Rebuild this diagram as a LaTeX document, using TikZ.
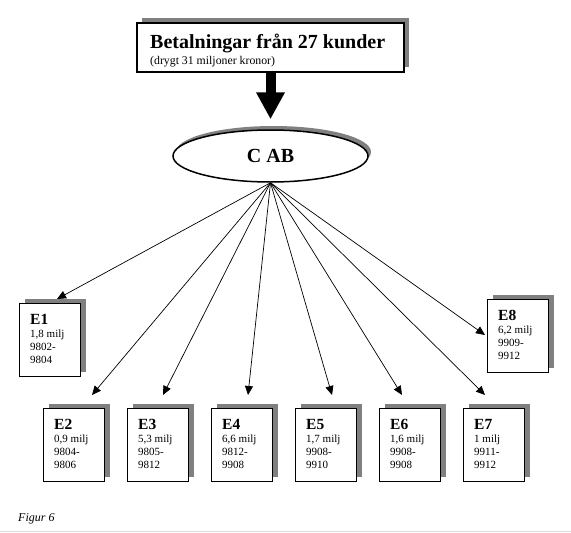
\documentclass[tikz,border=0pt]{standalone}
\usepackage{fontspec}
\setmainfont{Liberation Serif}
\usetikzlibrary{arrows.meta,shapes.geometric,shadows,calc}
\definecolor{shadowgray}{HTML}{808080}
\definecolor{rulegray}{HTML}{DCDCDC}
\tikzset{
  shd/.style={drop shadow={shadow xshift=5pt, shadow yshift=5pt, fill=shadowgray, opacity=1}},
  ebox/.style={draw, line width=1pt, fill=white, minimum width=61pt, minimum height=73pt, inner sep=0pt, shd},
  etitle/.style={font=\fontsize{15.5}{15.5}\selectfont\bfseries, inner sep=0pt},
  eline/.style={font=\fontsize{11}{12}\selectfont, inner sep=0pt},
  thin arrow/.style={line width=0.7pt, -{Triangle[length=9pt,width=8pt]}},
}
\newcommand\ebox[7]{%
  \node[ebox, anchor=north west] (#1) at (#2,#3) {};
  \node[etitle, anchor=base west] (#1t) at ($(#1.north west)+(11,21)$) {#4};
  \node[eline, anchor=base west] (#1a) at ($(#1.north west)+(11,34)$) {#5};
  \node[eline, anchor=base west] (#1b) at ($(#1.north west)+(11,47)$) {#6};
  \node[eline, anchor=base west] (#1c) at ($(#1.north west)+(11,60)$) {#7};
}
\begin{document}
\begin{tikzpicture}[x=1pt,y=-1pt]
\useasboundingbox (0,0) rectangle (571,533);
\fill[white] (0,0) rectangle (571,533);
% top box
\node[draw, line width=2pt, fill=white, minimum width=267pt, minimum height=49pt, inner sep=0pt, shd] (top) at (270.5,47.5) {};
\node[font=\fontsize{20}{20}\selectfont\bfseries, inner sep=0pt, anchor=base west] (title) at (150,48) {Betalningar från 27 kunder};
\node[font=\fontsize{11.8}{11.8}\selectfont, inner sep=0pt, anchor=base west] (subtitle) at (150,64) {(drygt 31 miljoner kronor)};
% ellipse
\node[ellipse, draw, line width=1.5pt, fill=white, minimum width=195pt, minimum height=52pt, inner sep=0pt,
      drop shadow={shadow xshift=3pt, shadow yshift=4pt, fill=shadowgray, opacity=1},
      font=\fontsize{20}{20}\selectfont\bfseries] (cab) at (270.5,156) {C AB};
% thick arrow
\draw[line width=10pt, -{Triangle[length=27pt,width=27pt]}, shorten >=10pt] (top.south) -- (cab.north);
% boxes
\ebox{e1}{19}{303}{E1}{1,8 milj}{9802-}{9804}
\ebox{e8}{487}{299}{E8}{6,2 milj}{9909-}{9912}
\ebox{e2}{43}{408}{E2}{0,9 milj}{9804-}{9806}
\ebox{e3}{127}{408}{E3}{5,3 milj}{9805-}{9812}
\ebox{e4}{211}{408}{E4}{6,6 milj}{9812-}{9908}
\ebox{e5}{295}{408}{E5}{1,7 milj}{9908-}{9910}
\ebox{e6}{379}{408}{E6}{1,6 milj}{9908-}{9908}
\ebox{e7}{463}{408}{E7}{1 milj}{9911-}{9912}
% arrow end points
\coordinate (t1) at ($(e1.north west)+(38,-4)$);
\coordinate (t8) at ($(e8.north west)+(-2,36)$);
\coordinate (t2) at ($(e2.north west)+(49,-13)$);
\coordinate (t3) at ($(e3.north west)+(36,-13)$);
\coordinate (t4) at ($(e4.north west)+(37,-13)$);
\coordinate (t5) at ($(e5.north west)+(37,-13)$);
\coordinate (t6) at ($(e6.north west)+(23,-13)$);
\coordinate (t7) at ($(e7.north west)+(22,-13)$);
\foreach \t in {t1,t2,t3,t4,t5,t6,t7,t8}
  \draw[thin arrow] (cab.south) -- (\t);
% caption
\node[font=\fontsize{12}{12}\selectfont\itshape, inner sep=0pt, anchor=base west] (cap) at (18,521) {Figur 6};
\draw[rulegray, line width=1pt] (0,531) -- (571,531);
\end{tikzpicture}
\end{document}
